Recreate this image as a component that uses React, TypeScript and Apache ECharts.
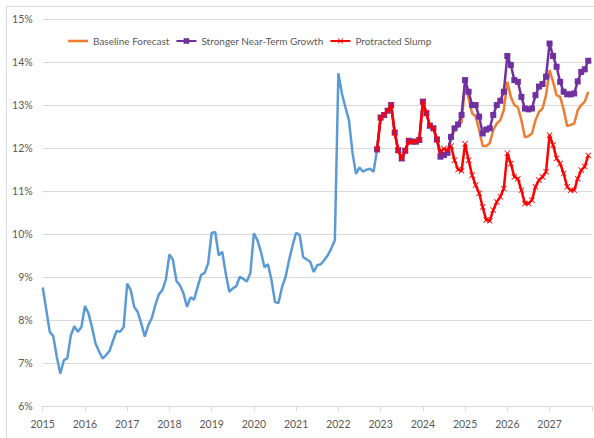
import React, { useEffect, useRef } from "react";
import * as echarts from "echarts";

// Monthly history, Jan 2015 .. Dec 2022 (%)
const history2015 = [8.76, 8.25, 7.73, 7.63, 7.15, 6.76, 7.07, 7.12, 7.65, 7.86, 7.73, 7.84];
const history2016 = [8.33, 8.16, 7.84, 7.46, 7.28, 7.11, 7.19, 7.29, 7.53, 7.75, 7.73, 7.84];
const history2017 = [8.85, 8.7, 8.31, 8.19, 7.92, 7.62, 7.88, 8.05, 8.35, 8.6, 8.7, 8.95];
const history2018 = [9.53, 9.4, 8.91, 8.81, 8.62, 8.31, 8.53, 8.48, 8.77, 9.05, 9.1, 9.32];
const history2019 = [10.03, 10.05, 9.51, 9.59, 9.09, 8.66, 8.74, 8.79, 9.01, 8.96, 8.9, 9.1];
const history2020 = [10.02, 9.86, 9.59, 9.23, 9.3, 8.93, 8.42, 8.4, 8.77, 9.01, 9.4, 9.74];
const history2021 = [10.03, 9.98, 9.47, 9.41, 9.36, 9.12, 9.28, 9.3, 9.4, 9.51, 9.67, 9.86];
const history2022 = [13.74, 13.27, 12.95, 12.65, 11.9, 11.4, 11.55, 11.45, 11.5, 11.52, 11.45, 11.97];

// Shared forecast path, Dec 2022 .. May 2024
const commonForecast = [11.97, 12.71, 12.77, 12.87, 13.0, 12.36, 11.95, 11.76, 11.94, 12.17, 12.15, 12.15, 12.19, 13.08, 12.81, 12.52, 12.46, 12.2];

// Scenario paths, Jun 2024 .. Dec 2027
const baselineTail = [11.8, 11.84, 11.89, 12.2, 12.42, 12.5, 12.6, 13.47, 13.16, 12.81, 12.73, 12.42, 12.05, 12.05, 12.11, 12.42, 12.57, 12.65, 12.88, 13.54, 13.19, 13.0, 12.95, 12.65, 12.25, 12.28, 12.34, 12.65, 12.84, 12.92, 13.23, 13.81, 13.54, 13.23, 13.19, 12.9, 12.51, 12.54, 12.57, 12.88, 13.0, 13.08, 13.31];
const strongerTail = [11.8, 11.84, 11.89, 12.26, 12.46, 12.55, 12.77, 13.58, 13.31, 13.0, 13.0, 12.73, 12.34, 12.43, 12.46, 12.77, 13.0, 13.1, 13.31, 14.14, 13.93, 13.58, 13.54, 13.19, 12.92, 12.9, 12.92, 13.23, 13.43, 13.49, 13.66, 14.43, 14.14, 13.89, 13.54, 13.31, 13.25, 13.25, 13.27, 13.55, 13.77, 13.83, 14.03];
const slumpTail = [11.9, 11.99, 11.95, 12.05, 11.72, 11.5, 11.47, 12.1, 11.72, 11.37, 11.14, 10.95, 10.63, 10.33, 10.31, 10.56, 10.75, 10.87, 11.06, 11.88, 11.64, 11.33, 11.29, 11.02, 10.71, 10.71, 10.79, 11.1, 11.26, 11.33, 11.45, 12.3, 12.07, 11.76, 11.64, 11.41, 11.1, 11.02, 11.02, 11.29, 11.49, 11.57, 11.83];

const startYear = 2015;
const endYear = 2028; // axis runs to Jan 2028
const yTicksMin = 6;
const yTicksMax = 15;

const FONT = "Lato, 'Liberation Sans Narrow', sans-serif";
const LABEL_COLOR = "#595959";

export default function App() {
  const ref = useRef<HTMLDivElement>(null);

  useEffect(() => {
    if (!ref.current) return;
    const chart = echarts.init(ref.current, undefined, { renderer: "svg" });

    const months: string[] = [];
    for (let y = startYear; y < endYear; y++) {
      for (let m = 1; m <= 12; m++) months.push(`${y}-${String(m).padStart(2, "0")}`);
    }
    months.push(`${endYear}-01`);

    const history = [
      ...history2015, ...history2016, ...history2017, ...history2018,
      ...history2019, ...history2020, ...history2021, ...history2022,
    ];
    const startIdx = history.length - 1;
    const pad = (arr: number[]) => {
      const out: (number | null)[] = [];
      for (let i = 0; i < startIdx; i++) out.push(null);
      return out.concat(arr);
    };
    const historyData: (number | null)[] = history.slice();
    const baseline = pad([...commonForecast, ...baselineTail]);
    const stronger = pad([...commonForecast, ...strongerTail]);
    const slump = pad([...commonForecast, ...slumpTail]);

    const xMark = "path://M1,0L5,4L9,0L10,1L6,5L10,9L9,10L5,6L1,10L0,9L4,5L0,1Z";
    const lineIcon = "path://M0,0M20,7M0,2.25H20V4.75H0Z";

    chart.setOption({
      animation: false,
      backgroundColor: "#ffffff",
      grid: { left: 42.7, right: 2.2, top: 19, bottom: 31.7, containLabel: false },
      legend: {
        data: [
          { name: "Baseline Forecast", icon: lineIcon, itemStyle: { color: "#ED7D31" } },
          "Stronger Near-Term Growth",
          "Protracted Slump",
        ],
        left: 63,
        top: 31,
        itemWidth: 20,
        itemHeight: 7,
        itemGap: 6,
        textStyle: { fontFamily: FONT, fontSize: 10, color: LABEL_COLOR },
      },
      xAxis: {
        type: "category",
        data: months,
        boundaryGap: false,
        axisLine: { show: true, lineStyle: { color: "#d9d9d9", width: 1 } },
        axisTick: {
          show: true,
          interval: (i: number) => i % 12 === 0,
          length: 5,
          lineStyle: { color: "#d9d9d9" },
        },
        axisLabel: {
          interval: (i: number) => i % 12 === 0 && i < months.length - 1,
          formatter: (v: string) => v.slice(0, 4),
          color: LABEL_COLOR,
          fontFamily: FONT,
          fontSize: 10.5,
          margin: 12,
        },
        splitLine: { show: false },
      },
      yAxis: {
        type: "value",
        min: yTicksMin,
        max: yTicksMax,
        interval: 1,
        axisLine: { show: false },
        axisTick: { show: false },
        axisLabel: {
          formatter: "{value}%",
          color: LABEL_COLOR,
          fontFamily: FONT,
          fontSize: 10.5,
          margin: 10,
        },
        splitLine: { lineStyle: { color: "#d9d9d9", width: 1 } },
      },
      graphic: [
        { type: "line", shape: { x1: 6.5, y1: 6.5, x2: 594, y2: 6.5 }, style: { stroke: "#d9d9d9", lineWidth: 1 } },
        { type: "line", shape: { x1: 6.5, y1: 6.5, x2: 6.5, y2: 438 }, style: { stroke: "#d9d9d9", lineWidth: 1 } },
      ],
      series: [
        {
          name: "History",
          type: "line",
          data: historyData,
          symbol: "none",
          lineStyle: { color: "#5B9BD5", width: 2.5 },
          itemStyle: { color: "#5B9BD5" },
          z: 1,
        },
        {
          name: "Baseline Forecast",
          type: "line",
          data: baseline,
          symbol: "none",
          lineStyle: { color: "#ED7D31", width: 2.5 },
          itemStyle: { color: "#ED7D31" },
          z: 2,
        },
        {
          name: "Stronger Near-Term Growth",
          type: "line",
          data: stronger,
          symbol: "rect",
          symbolSize: 6,
          showAllSymbol: true,
          lineStyle: { color: "#7030A0", width: 2.5 },
          itemStyle: { color: "#7030A0" },
          z: 3,
        },
        {
          name: "Protracted Slump",
          type: "line",
          data: slump,
          symbol: xMark,
          symbolSize: 6,
          showAllSymbol: true,
          lineStyle: { color: "#FF0000", width: 2.5 },
          itemStyle: { color: "#FF0000" },
          z: 4,
        },
      ],
    });

    return () => chart.dispose();
  }, []);

  return (
    <div
      ref={ref}
      style={{ position: "absolute", left: 0, top: 0, width: 594, height: 438 }}
    />
  );
}
